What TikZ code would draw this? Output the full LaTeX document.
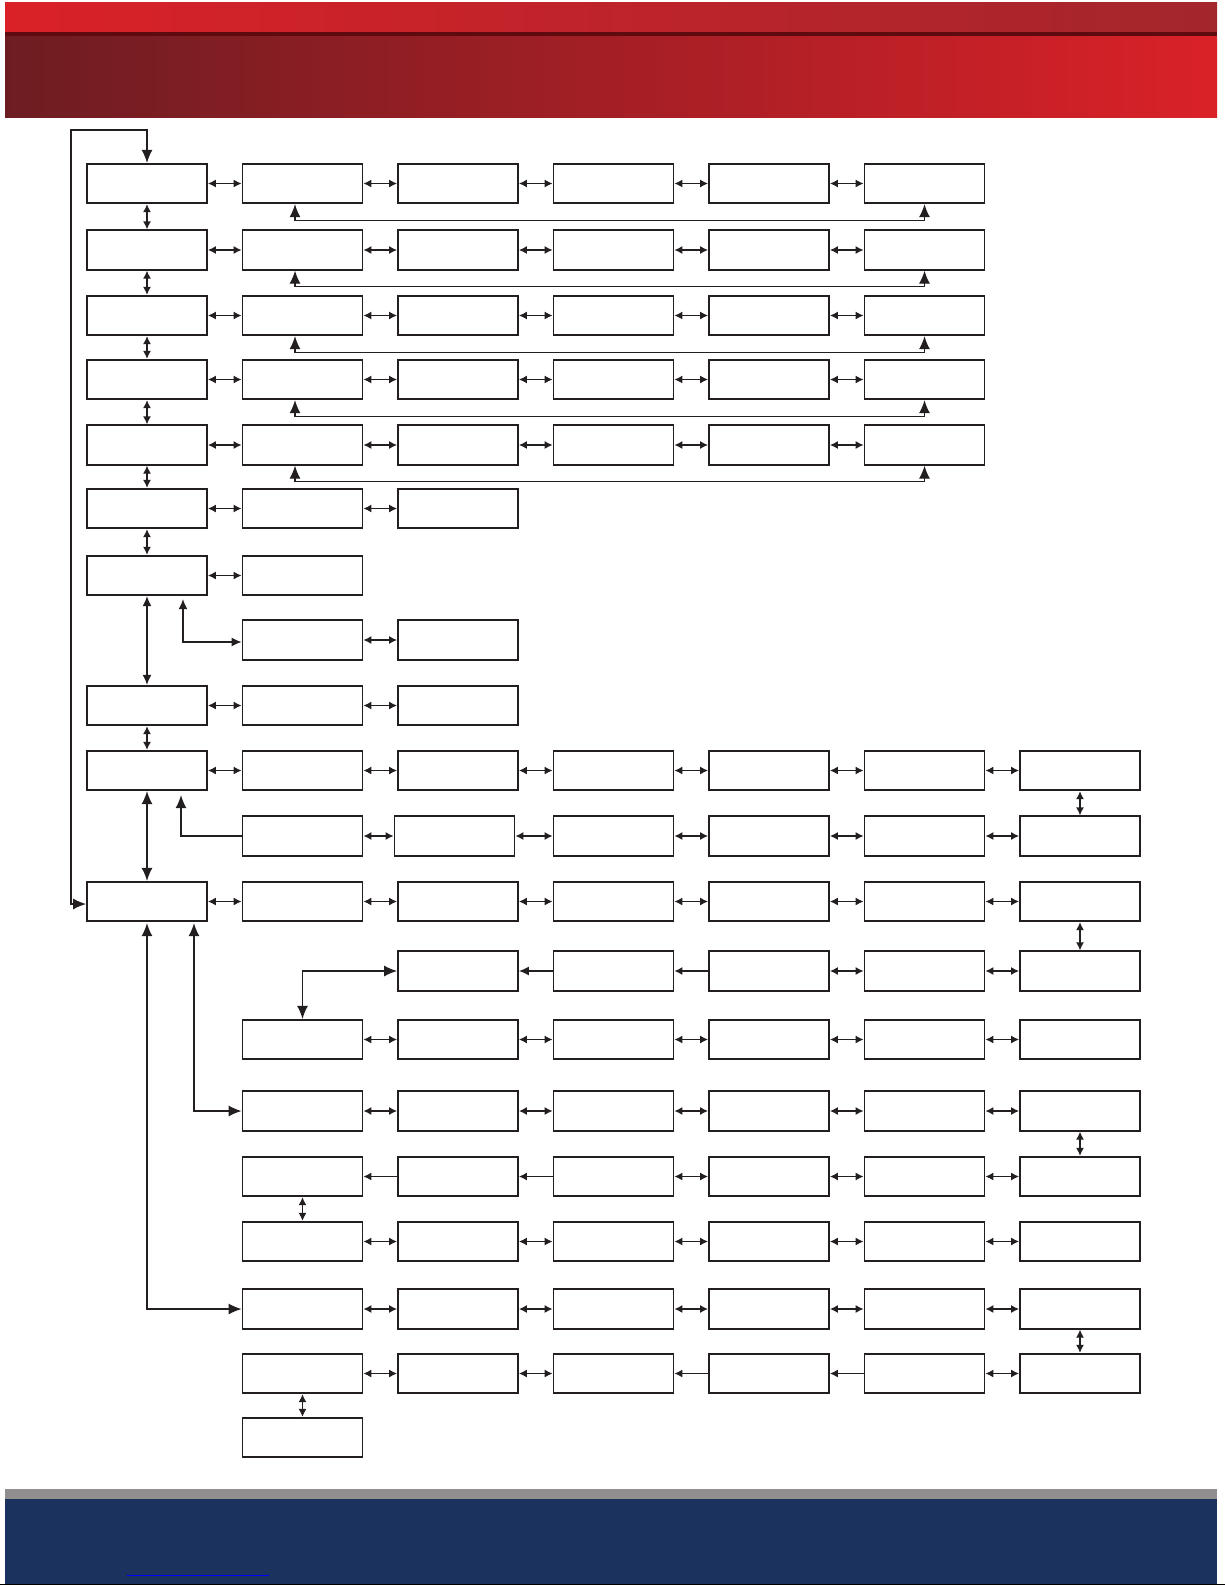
\documentclass[tikz,border=0pt]{standalone}
\usetikzlibrary{arrows.meta}
\definecolor{ink}{HTML}{231F20}
\definecolor{barRed}{HTML}{DA2128}
\definecolor{barWine}{HTML}{A3262C}
\definecolor{barDark}{HTML}{5E0A0F}
\definecolor{barDeep}{HTML}{6D1D22}
\definecolor{footGray}{HTML}{908E8F}
\definecolor{footNavy}{HTML}{1B325E}
\tikzset{
  box/.style={draw=ink, line width=1.8pt, fill=white, minimum width=120pt, minimum height=39.5pt, inner sep=0pt},
  link/.style={draw=ink, line width=1.3pt, >={Latex[length=8pt,width=8pt]}, <->},
  mid/.style={draw=ink, line width=1.3pt, >={Latex[length=10pt,width=9pt]}, <->},
  route/.style={draw=ink, line width=1.3pt, >={Latex[length=13pt,width=11pt]}, <->}
}
\begin{document}
\begin{tikzpicture}[x=1pt,y=-1pt]
	\useasboundingbox (0,0) rectangle (1225,1585);
	% header bars
	\shade[left color=barRed, right color=barWine] (5,2) rectangle (1217,31.5);
	\fill[barDark] (5,31.5) rectangle (1217,36.5);
	\shade[left color=barDeep, right color=barRed] (5,36.5) rectangle (1217,117);
	
	% boxes: row / top edge / columns
	\foreach \r/\ry/\cols in {1/163/{1,2,3,4,5,6}, 2/229.5/{1,2,3,4,5,6}, 3/295/{1,2,3,4,5,6},
		4/359/{1,2,3,4,5,6}, 5/424.5/{1,2,3,4,5,6}, 6/488/{1,2,3}, 7/555/{1,2}, 8/619.5/{2,3},
		9/685/{1,2,3}, 10/750/{1,2,3,4,5,6,7}, 11/815.5/{2,4,5,6,7}, 12/881/{1,2,3,4,5,6,7},
		13/950.5/{3,4,5,6,7}, 14/1019/{2,3,4,5,6,7}, 15/1090.5/{2,3,4,5,6,7}, 16/1156/{2,3,4,5,6,7},
		17/1221/{2,3,4,5,6,7}, 18/1288.5/{2,3,4,5,6,7}, 19/1353/{2,3,4,5,6,7}, 20/1417/{2}}
		\foreach \c in \cols
			\node[box] (b\r-\c) at ({147+155.5*(\c-1)},{\ry+20.5}) {};
	\node[box] (b11-3) at (454.5,836) {};
	
	% double arrows along the rows
	\foreach \r/\pairs in {1/{1,2,3,4,5}, 2/{1,2,3,4,5}, 3/{1,2,3,4,5}, 4/{1,2,3,4,5}, 5/{1,2,3,4,5},
		6/{1,2}, 7/{1}, 8/{2}, 9/{1,2}, 10/{1,2,3,4,5,6}, 11/{2,3,4,5,6}, 12/{1,2,3,4,5,6},
		13/{5,6}, 14/{2,3,4,5,6}, 15/{2,3,4,5,6}, 16/{4,5,6}, 17/{2,3,4,5,6}, 18/{2,3,4,5,6}, 19/{2,3,6}}
		\foreach \a in \pairs {
			\pgfmathtruncatemacro\nxt{\a+1}
			\draw[link] (b\r-\a) -- (b\r-\nxt);
		}
	% one-way arrows, pointing left
	\draw[mid,->] (b13-4) -- (b13-3);
	\foreach \r/\a in {13/4, 16/2, 16/3, 19/4, 19/5} {
		\pgfmathtruncatemacro\nxt{\a+1}
		\draw[link,->] (b\r-\nxt) -- (b\r-\a);
	}
	
	% short vertical arrows
	\foreach \c/\u/\v in {1/1/2, 1/2/3, 1/3/4, 1/4/5, 1/5/6, 1/6/7, 1/9/10,
		7/10/11, 7/12/13, 7/15/16, 7/18/19, 2/16/17, 2/19/20}
		\draw[link] (b\u-\c) -- (b\v-\c);
	\draw[mid] (b7-1) -- (b9-1);
	\draw[route] (b10-1) -- (b12-1);
	
	% return lines under rows 1 to 5
	\foreach \r in {1,...,5}
		\draw[route] ([xshift=-7.5pt]b\r-2.south) -- ++(0,16) -| (b\r-6.south);
	
	% elbows
	\draw[mid] ([xshift=36pt,yshift=-3pt]b7-1.south) |- ([yshift=-2pt]b8-2.west);
	\draw[route,->] (b11-2.west) -| ([xshift=34pt,yshift=-4pt]b10-1.south);
	\draw[route] (b13-3.west) -| (b14-2.north);
	\draw[route] ([yshift=-1pt]b12-1.south) |- (b18-2.west);
	\draw[route] ([xshift=47pt,yshift=-1pt]b12-1.south) |- (b15-2.west);
	\coordinate (bend) at (71,130);
	\draw[route] ([yshift=-2.5pt]b12-1.west) -| (bend) -| (b1-1.north);
	
	% footer bars
	\fill[footGray] (5,1489) rectangle (1217,1499);
	\fill[footNavy] (5,1499) rectangle (1217,1583.5);
	\fill[black] (0,1583.5) rectangle (1225,1585);
	\draw[blue, line width=1pt] (127,1575.5) -- (269,1575.5);
\end{tikzpicture}
\end{document}
